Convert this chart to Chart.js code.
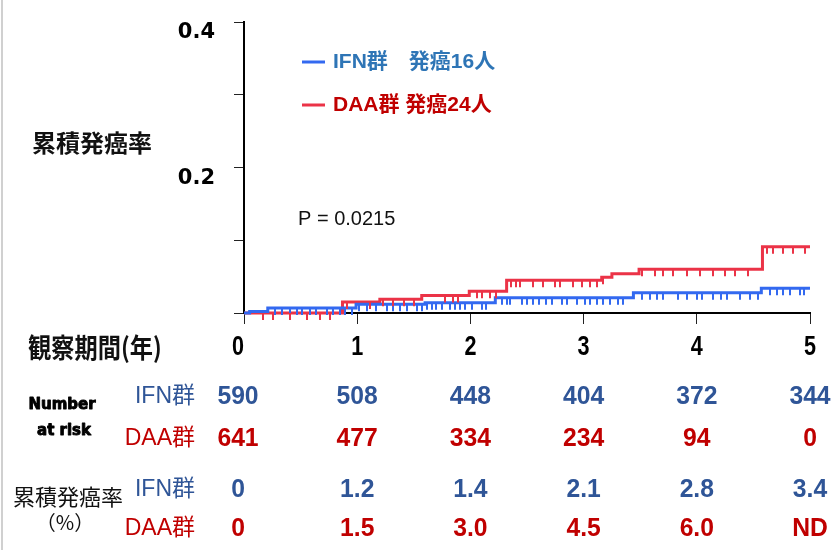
<!DOCTYPE html>
<html>
<head>
<meta charset="utf-8">
<script src="https://cdn.jsdelivr.net/npm/chart.js@4"></script>
<style>
  html, body { margin: 0; padding: 0; background: #fff; }
  canvas { display: block; }
</style>
</head>
<body>
<canvas id="c" width="833" height="550"></canvas>
<script>
// Observation period (years) shown on the x axis
const years = [0, 1, 2, 3, 4, 5];
// Only these y ticks carry a label
const yLabeledTicks = [0.2, 0.4];

// Kaplan–Meier steps: time (years) where the cumulative incidence changes and the new value (%)
const ifnTimes = [0, 0.05, 0.21, 0.99, 1.60, 2.22, 3.44, 4.57, 5.0];
const ifnRates = [0, 0.2, 0.7, 1.2, 1.4, 2.1, 2.8, 3.4, 3.4];
const daaTimes = [0, 0.87, 1.20, 1.57, 1.99, 2.32, 3.16, 3.25, 3.49, 4.58, 5.0];
const daaRates = [0, 1.5, 1.9, 2.4, 3.0, 4.5, 4.9, 5.4, 6.0, 9.1, 9.1];

// Censored observations (years)
const ifnCensored = [0.27, 0.34, 0.41, 0.47, 0.51, 0.58, 0.64, 0.73, 0.79, 0.85, 0.89, 0.95, 1.02, 1.09,
  1.17, 1.26, 1.32, 1.38, 1.44, 1.53, 1.57, 1.62, 1.66, 1.70, 1.75, 1.82, 1.86, 1.91, 1.95, 2.01, 2.10,
  2.14, 2.28, 2.32, 2.35, 2.46, 2.50, 2.55, 2.61, 2.67, 2.72, 2.81, 2.85, 2.94, 3.01, 3.06, 3.12, 3.17,
  3.23, 3.30, 3.35, 3.52, 3.59, 3.65, 3.70, 3.83, 3.91, 4.00, 4.05, 4.14, 4.21, 4.27, 4.38, 4.47, 4.54,
  4.65, 4.71, 4.76, 4.82, 4.91, 4.95];
const daaCensored = [0.17, 0.26, 0.41, 0.56, 0.67, 0.76, 0.91, 1.11, 1.23, 1.32, 1.41, 1.50, 1.78, 1.85,
  1.89, 2.06, 2.10, 2.17, 2.23, 2.36, 2.40, 2.44, 2.55, 2.64, 2.75, 2.79, 2.91, 2.99, 3.06, 3.12, 3.17,
  3.52, 3.63, 3.70, 3.79, 3.91, 4.03, 4.14, 4.25, 4.34, 4.45, 4.62, 4.67, 4.76, 4.85, 4.96];

// Legend and annotation texts
const legendTexts = ['IFN群\u3000発癌16人', 'DAA群 発癌24人'];
const pValueText = 'P = 0.0215';
const yTitle = '累積発癌率';
const xTitle = '観察期間(年)';

// Number at risk and cumulative incidence (%) at each year
const groupNames = ['IFN群', 'DAA群'];
const riskIFN = ['590', '508', '448', '404', '372', '344'];
const riskDAA = ['641', '477', '334', '234', '94', '0'];
const cumIFN = ['0', '1.2', '1.4', '2.1', '2.8', '3.4'];
const cumDAA = ['0', '1.5', '3.0', '4.5', '6.0', 'ND'];

const IFN_LINE = '#3369f0';
const DAA_LINE = '#eb3347';
const IFN_LEGEND_TEXT = '#2e75b6';
const TABLE_BLUE = '#2f5597';
const TABLE_RED = '#c00000';

const LATIN_JP = '"Liberation Sans", "Noto Sans CJK JP", sans-serif';
const JP = '"Noto Sans CJK JP", sans-serif';

function toPoints(times, rates) {
  return times.map((t, i) => ({ x: t, y: rates[i] / 100 }));
}

function rateAt(times, rates, t) {
  let v = rates[0];
  for (let i = 0; i < times.length; i++) if (times[i] <= t) v = rates[i];
  return v;
}

function text(ctx, s, x, y, font, color, align, sx, stroke) {
  ctx.save();
  ctx.font = font;
  ctx.fillStyle = color;
  ctx.textAlign = align || 'left';
  ctx.textBaseline = 'middle';
  ctx.translate(x, y);
  ctx.scale(sx || 1, 1);
  ctx.fillText(s, 0, 0);
  if (stroke) {
    ctx.strokeStyle = color;
    ctx.lineWidth = stroke;
    ctx.lineJoin = 'round';
    ctx.strokeText(s, 0, 0);
  }
  ctx.restore();
}

// the first column sits slightly left of its tick
const colShift = i => (i === 0 ? -6 : 0);

const decorations = {
  id: 'decorations',
  beforeDraw(chart) {
    const ctx = chart.ctx;
    ctx.save();
    ctx.fillStyle = '#ffffff';
    ctx.fillRect(0, 0, chart.width, chart.height);
    ctx.fillStyle = '#d0d0d0';
    ctx.fillRect(1, 0, 2, chart.height);
    ctx.restore();
  },
  afterDatasetsDraw(chart) {
    // censoring ticks hanging below each curve
    const ctx = chart.ctx;
    const xs = chart.scales.x, ys = chart.scales.y;
    const sets = [
      [ifnTimes, ifnRates, ifnCensored, IFN_LINE],
      [daaTimes, daaRates, daaCensored, DAA_LINE]
    ];
    ctx.save();
    ctx.lineWidth = 2;
    for (const [times, rates, cens, color] of sets) {
      ctx.strokeStyle = color;
      ctx.beginPath();
      for (const t of cens) {
        const px = Math.round(xs.getPixelForValue(t));
        const py = ys.getPixelForValue(rateAt(times, rates, t) / 100);
        ctx.moveTo(px, py);
        ctx.lineTo(px, py + 7);
      }
      ctx.stroke();
    }
    ctx.restore();
  },
  afterDraw(chart) {
    const ctx = chart.ctx;
    const xs = chart.scales.x;

    // x tick labels, condensed
    xs.ticks.forEach((tk, i) => {
      text(ctx, String(tk.value), xs.getPixelForValue(tk.value) + colShift(i), 348,
        'bold 27px "Liberation Sans", sans-serif', '#000', 'center', 0.8);
    });

    // axis titles
    text(ctx, yTitle, 32, 143, 'bold 24px ' + JP, '#111');
    text(ctx, xTitle, 28, 348, 'bold 27px ' + JP, '#111', 'left', 0.86);

    // legend
    const legendY = [62, 105];
    const legendColors = [IFN_LEGEND_TEXT, TABLE_RED];
    const lineColors = [IFN_LINE, DAA_LINE];
    ctx.save();
    ctx.lineWidth = 3;
    legendY.forEach((y, i) => {
      ctx.strokeStyle = lineColors[i];
      ctx.beginPath();
      ctx.moveTo(302, y);
      ctx.lineTo(325, y);
      ctx.stroke();
      text(ctx, legendTexts[i], 333, y, 'bold 21px ' + LATIN_JP, legendColors[i]);
    });
    ctx.restore();

    // p value
    text(ctx, pValueText, 298, 219, '20px "Liberation Sans", sans-serif', '#111');

    // table: number at risk
    text(ctx, 'Number', 62, 405, 'bold 15px "DejaVu Sans", sans-serif', '#000', 'center', 1, 0.9);
    text(ctx, 'at risk', 64, 431, 'bold 15px "DejaVu Sans", sans-serif', '#000', 'center', 1, 0.9);
    // table: cumulative incidence
    text(ctx, '累積発癌率', 68, 497, '22px ' + JP, '#111', 'center');
    text(ctx, '（%）', 65, 522, '20px ' + JP, '#111', 'center');

    const rows = [
      [groupNames[0], riskIFN, TABLE_BLUE, 397],
      [groupNames[1], riskDAA, TABLE_RED, 439],
      [groupNames[0], cumIFN, TABLE_BLUE, 490],
      [groupNames[1], cumDAA, TABLE_RED, 529]
    ];
    for (const [name, vals, color, y] of rows) {
      text(ctx, name, 195, y, '23px ' + LATIN_JP, color, 'right');
      vals.forEach((v, i) => {
        const x = xs.getPixelForValue(years[i]) + colShift(i);
        text(ctx, v, x, y, 'bold 26px "Liberation Sans", sans-serif', color, 'center', 0.95);
      });
    }
  }
};

new Chart(document.getElementById('c'), {
  type: 'line',
  data: {
    datasets: [
      { label: groupNames[0], data: toPoints(ifnTimes, ifnRates), borderColor: IFN_LINE, borderWidth: 3,
        stepped: true, pointRadius: 0, fill: false, clip: false },
      { label: groupNames[1], data: toPoints(daaTimes, daaRates), borderColor: DAA_LINE, borderWidth: 3,
        stepped: true, pointRadius: 0, fill: false, clip: false }
    ]
  },
  options: {
    responsive: false,
    animation: false,
    devicePixelRatio: 1,
    layout: { padding: { left: 0, top: 22, right: 23, bottom: 0 } },
    plugins: { legend: { display: false }, tooltip: { enabled: false }, title: { display: false } },
    scales: {
      x: {
        type: 'linear', min: 0, max: 5,
        afterBuildTicks: s => { s.ticks = years.map(v => ({ value: v })); },
        ticks: { display: false, autoSkip: false },
        grid: { display: true, drawOnChartArea: false, drawTicks: true, tickLength: 11, color: '#222', lineWidth: 1 },
        border: { display: true, color: '#000', width: 2 },
        afterFit: s => { s.height = 237; s.paddingLeft = 0; s.paddingRight = 0; }
      },
      y: {
        type: 'linear', min: 0, max: 0.4,
        ticks: { stepSize: 0.1, color: '#000', padding: 19, labelOffset: 11,
          font: { family: '"DejaVu Sans", sans-serif', size: 21, weight: 'bold' },
          callback: v => {
            const k = Math.round(v * 10) / 10;
            return yLabeledTicks.includes(k) ? k.toFixed(1) : '';
          } },
        grid: { display: true, drawOnChartArea: false, drawTicks: true, tickLength: 10, color: '#222', lineWidth: 1 },
        border: { display: true, color: '#000', width: 2 },
        afterFit: s => { s.width = 244; s.paddingTop = 0; s.paddingBottom = 0; }
      }
    }
  },
  plugins: [decorations]
});
</script>
</body>
</html>
